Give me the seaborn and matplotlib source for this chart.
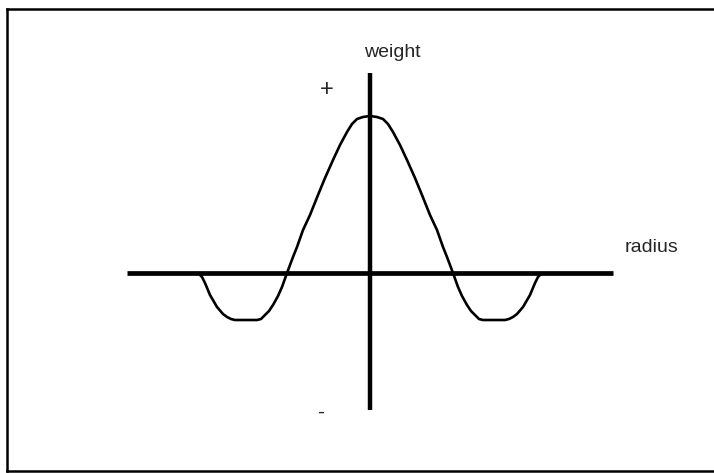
import numpy as np
import pandas as pd
import matplotlib
matplotlib.use("Agg")
import matplotlib.pyplot as plt
import seaborn as sns

# curve (radius offset, weight offset)
radius = [-172, -168, -165, -160, -153, -147, -143, -139, -135, -113, -109, -105, -101, -97, -92, -88,
          -83, -77, -73, -67, -60, -52, -45, -37, -30, -23, -18, -13, -7, 0,
          7, 13, 18, 23, 30, 37, 45, 52, 60, 67, 73, 77, 83,
          88, 92, 97, 101, 105, 109, 113, 135, 139, 143, 147, 153, 160, 165, 168, 172]
weight = [0, -4, -10, -22, -34, -41, -44, -46, -47, -47, -46, -42, -38, -32, -23, -14,
          0, 16, 26, 43, 58, 78, 95, 113, 128, 141, 149, 154, 156, 157,
          156, 154, 149, 141, 128, 113, 95, 78, 58, 43, 26, 16, 0,
          -14, -23, -32, -38, -42, -46, -47, -47, -46, -44, -41, -34, -22, -10, -4, 0]

# extent of the drawn axes
radius_axis = [-243, 243]
weight_axis = [-137, 200]

labels = {"weight": "weight", "radius": "radius", "plus": "+", "minus": "-"}

df = pd.DataFrame({"radius": radius, "weight": weight})

sns.set_style("white")
plt.rcParams['font.family'] = ['Liberation Sans', 'DejaVu Sans']

fig = plt.figure(figsize=(7.14, 4.73), dpi=100)
ax = fig.add_axes([7 / 714, 2 / 473, 710 / 714, 462 / 473])

ax.plot(radius_axis, [0, 0], color="black", lw=3.4, solid_capstyle="butt")
ax.plot([0, 0], weight_axis, color="black", lw=3.2, solid_capstyle="butt")
sns.lineplot(data=df, x="radius", y="weight", color="black", lw=1.9, ax=ax, sort=False)

ax.text(-6, 216, labels["weight"], fontsize=14, ha="left", va="baseline")
ax.text(255, 26, labels["radius"], fontsize=14, ha="left", va="center")
ax.text(-43, 183, labels["plus"], fontsize=17, ha="center", va="center")
ax.text(-49, -139, labels["minus"], fontsize=15, ha="center", va="center")

ax.set_xlim(-363, 347)
ax.set_ylim(-198, 264)
ax.set_xticks([])
ax.set_yticks([])
ax.set_xlabel("")
ax.set_ylabel("")
for s in ax.spines.values():
    s.set_color("black")
    s.set_linewidth(1.8)
ax.spines["right"].set_visible(False)

fig.savefig("out.png", dpi=100)
